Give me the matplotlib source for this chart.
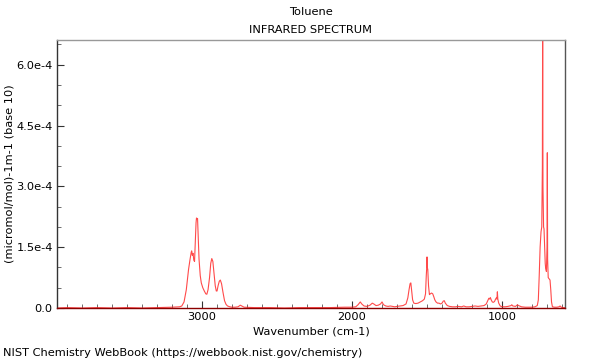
import numpy as np
import matplotlib
matplotlib.use("Agg")
import matplotlib.pyplot as plt
from matplotlib.ticker import FixedLocator, MultipleLocator

# spectrum, absorbance in units of 1e-4
wavenumber = [3966, 3900, 3800, 3700, 3600, 3500, 3400, 3300, 3200, 3150,
              3135, 3120, 3105, 3098, 3090, 3080, 3072, 3069, 3065, 3060,
              3055, 3050, 3045, 3040, 3037, 3034, 3030, 3026, 3020, 3012,
              3005, 2995, 2985, 2975, 2968, 2960, 2950, 2942, 2935, 2928,
              2920, 2912, 2905, 2900, 2893, 2885, 2878, 2870, 2860, 2850,
              2840, 2830, 2815, 2800, 2780, 2760, 2745, 2735, 2720, 2650,
              2550, 2450, 2350, 2250, 2150, 2050, 2000, 1975, 1960, 1945,
              1935, 1920, 1900, 1880, 1865, 1855, 1840, 1825, 1810, 1800,
              1790, 1775, 1760, 1745, 1730, 1715, 1700, 1680, 1660, 1640,
              1628, 1620, 1613, 1608, 1603, 1596, 1588, 1575, 1560, 1545,
              1530, 1518, 1510, 1505, 1502, 1500, 1498, 1495, 1490, 1484,
              1478, 1470, 1462, 1455, 1448, 1440, 1430, 1420, 1410, 1400,
              1392, 1385, 1378, 1365, 1350, 1330, 1310, 1290, 1270, 1255,
              1240, 1220, 1200, 1180, 1160, 1140, 1120, 1105, 1095, 1088,
              1082, 1078, 1072, 1065, 1058, 1050, 1043, 1038, 1034, 1031,
              1028, 1022, 1012, 1000, 980, 960, 940, 935, 928, 910,
              897, 890, 870, 845, 820, 800, 780, 765, 758, 752,
              746, 740, 735, 731, 729, 727, 723, 720, 716, 712,
              709, 704, 700, 698, 696, 692, 686, 680, 675, 670,
              664, 650, 635, 620, 613, 605, 590, 580]
absorb = [0.0, 0.01, 0.0, 0.01, 0.0, 0.01, 0.0, 0.01, 0.02, 0.03,
          0.05, 0.15, 0.45, 0.69, 0.95, 1.2, 1.38, 1.41, 1.3, 1.35,
          1.18, 1.15, 1.6, 2.1, 2.22, 2.2, 2.21, 1.8, 1.2, 0.8,
          0.62, 0.5, 0.42, 0.35, 0.34, 0.45, 0.75, 1.1, 1.22, 1.15,
          0.85, 0.55, 0.42, 0.42, 0.55, 0.66, 0.69, 0.6, 0.38, 0.18,
          0.09, 0.05, 0.03, 0.02, 0.02, 0.03, 0.07, 0.05, 0.02, 0.01,
          0.01, 0.0, 0.01, 0.01, 0.01, 0.02, 0.02, 0.03, 0.08, 0.15,
          0.1, 0.05, 0.04, 0.07, 0.12, 0.1, 0.06, 0.07, 0.1, 0.15,
          0.08, 0.05, 0.04, 0.05, 0.04, 0.03, 0.04, 0.05, 0.06, 0.1,
          0.25, 0.45, 0.6, 0.62, 0.45, 0.2, 0.12, 0.11, 0.12, 0.15,
          0.18, 0.22, 0.35, 0.8, 1.0, 1.26, 1.0, 0.95, 0.55, 0.33,
          0.35, 0.37, 0.35, 0.28, 0.2, 0.15, 0.12, 0.12, 0.1, 0.12,
          0.17, 0.18, 0.12, 0.06, 0.04, 0.03, 0.03, 0.04, 0.03, 0.05,
          0.03, 0.03, 0.04, 0.05, 0.04, 0.05, 0.06, 0.1, 0.18, 0.24,
          0.22, 0.26, 0.2, 0.15, 0.14, 0.16, 0.22, 0.25, 0.22, 0.4,
          0.22, 0.12, 0.05, 0.03, 0.03, 0.04, 0.06, 0.08, 0.05, 0.04,
          0.08, 0.06, 0.03, 0.02, 0.02, 0.02, 0.03, 0.06, 0.2, 0.8,
          1.5, 1.88, 2.0, 3.5, 7.5, 3.0, 2.0, 1.95, 1.5, 1.1,
          0.98, 0.9, 1.5, 3.83, 1.2, 0.75, 0.72, 0.69, 0.45, 0.15,
          0.03, 0.02, 0.02, 0.03, 0.05, 0.02, 0.01, 0.01]

y_ticks = [0.0, 1.5e-4, 3.0e-4, 4.5e-4, 6.0e-4]
y_labels = ["0.0", "1.5e-4", "3.0e-4", "4.5e-4", "6.0e-4"]
x_ticks = [3000, 2000, 1000]

fs = 8.2

fig = plt.figure(figsize=(6, 3.6), dpi=100)
ax = fig.add_axes([0.095, 0.1444, 0.8467, 0.7444])

ax.plot(wavenumber, np.array(absorb) * 1e-4, color="#ff2a2a", lw=0.8, alpha=0.85)

ax.set_xlim(3967, 580)
ax.set_ylim(0, 6.61e-4)

ax.xaxis.set_major_locator(FixedLocator(x_ticks))
ax.xaxis.set_minor_locator(MultipleLocator(100))
ax.yaxis.set_major_locator(FixedLocator(y_ticks))
ax.set_yticklabels(y_labels)
ax.yaxis.set_minor_locator(MultipleLocator(0.5e-4))
ax.tick_params(axis="both", which="major", direction="in", length=5, width=0.8,
               labelsize=fs, color="#333333", pad=3)
ax.tick_params(axis="both", which="minor", direction="in", length=3, width=0.6,
               color="#555555")

ax.spines["top"].set_color("#999999")
ax.spines["right"].set_color("#555555")
ax.spines["left"].set_color("#333333")
ax.spines["bottom"].set_color("#8b0000")
for s in ax.spines.values():
    s.set_linewidth(1.0)

ax.set_xlabel("Wavenumber (cm-1)", fontsize=fs)
ax.set_ylabel("(micromol/mol)-1m-1 (base 10)", fontsize=fs)
ax.xaxis.set_label_coords(0.5, -0.068)
ax.yaxis.set_label_coords(-0.083, 0.5)

fig.text(0.518, 0.967, "Toluene", ha="center", va="center", fontsize=fs)
fig.text(0.518, 0.917, "INFRARED SPECTRUM", ha="center", va="center", fontsize=fs)
fig.text(0.005, 0.0194, "NIST Chemistry WebBook (https://webbook.nist.gov/chemistry)",
         ha="left", va="center", fontsize=fs)

fig.savefig("out.png", dpi=100)
